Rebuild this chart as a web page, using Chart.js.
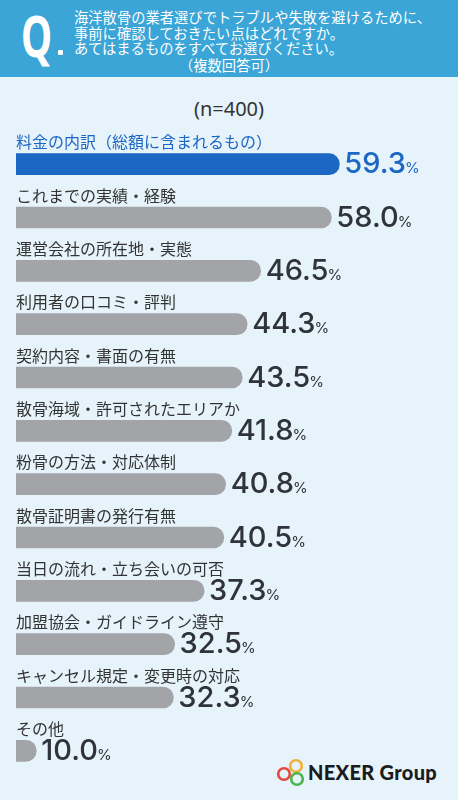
<!DOCTYPE html>
<html><head><meta charset="utf-8">
<script src="https://cdn.jsdelivr.net/npm/chart.js@4/dist/chart.umd.min.js"></script>
<style>
html,body{margin:0;padding:0;}
body{width:458px;height:800px;background:#e6f3fb;position:relative;overflow:hidden;font-family:"Noto Sans CJK JP","Noto Sans",sans-serif;}
#hdr{position:absolute;left:0;top:0;width:458px;height:77px;background:#3aa5d6;color:#fff;}
#q{position:absolute;left:21px;top:2px;font-family:"Noto Sans",sans-serif;font-weight:700;font-size:58px;line-height:66px;transform:scaleX(0.68);transform-origin:left top;}
#qd{position:absolute;left:58px;top:50px;width:5px;height:5px;background:#fff;border-radius:1px;}
#ht{position:absolute;left:74px;top:9px;font-size:14.3px;line-height:15.5px;}
#ht4{position:absolute;left:0;width:458px;top:57px;text-align:center;font-size:14.3px;line-height:15.5px;color:#fff;}
#n{position:absolute;left:0;width:458px;top:95px;text-align:center;font-family:"Noto Sans","Noto Sans CJK JP",sans-serif;font-size:20px;line-height:28px;color:#333;}
#logo{position:absolute;left:276px;top:757px;}
#lt{position:absolute;left:308px;top:760px;font-family:"Lato",sans-serif;font-weight:900;font-size:20px;line-height:25px;color:#1b1b1b;letter-spacing:0.3px;}
canvas{position:absolute;left:0;top:0;}
</style></head>
<body>
<div id="hdr">
  <div id="q">Q</div><div id="qd"></div>
  <div id="ht">海洋散骨の業者選びでトラブルや失敗を避けるために、<br>事前に確認しておきたい点はどれですか。<br>あてはまるものをすべてお選びください。</div>
  <div id="ht4">（複数回答可）</div>
</div>
<div id="n">(n=400)</div>
<svg id="logo" width="30" height="32" viewBox="0 0 30 32">
  <circle cx="20" cy="9" r="5.8" fill="none" stroke="#f0b13a" stroke-width="2.6"/>
  <circle cx="8" cy="17" r="5.8" fill="none" stroke="#e2483d" stroke-width="2.6"/>
  <circle cx="21" cy="22" r="5.8" fill="none" stroke="#4db34b" stroke-width="2.6"/>
</svg>
<div id="lt">NEXER Group</div>
<div style="position:absolute;left:0;top:0;width:458px;height:800px;">
<canvas id="c" width="458" height="800"></canvas>
</div>
<script>
const categories = [
  "料金の内訳（総額に含まれるもの）",
  "これまでの実績・経験",
  "運営会社の所在地・実態",
  "利用者の口コミ・評判",
  "契約内容・書面の有無",
  "散骨海域・許可されたエリアか",
  "粉骨の方法・対応体制",
  "散骨証明書の発行有無",
  "当日の流れ・立ち会いの可否",
  "加盟協会・ガイドライン遵守",
  "キャンセル規定・変更時の対応",
  "その他"
];
const values = [59.3, 58.0, 46.5, 44.3, 43.5, 41.8, 40.8, 40.5, 37.3, 32.5, 32.3, 10.0];
const valueLabels = ["59.3","58.0","46.5","44.3","43.5","41.8","40.8","40.5","37.3","32.5","32.3","10.0"];

const BLUE = "#1c67c3", GRAY = "#a3a4a7", DARK = "#30343a";

const labelPlugin = {
  id: "labels",
  afterDatasetsDraw(chart) {
    const ctx = chart.ctx;
    const meta = chart.getDatasetMeta(0);
    meta.data.forEach((bar, i) => {
      const color = i === 0 ? BLUE : DARK;
      ctx.save();
      ctx.textBaseline = "middle";
      ctx.textAlign = "left";
      ctx.fillStyle = i === 0 ? BLUE : "#333";
      ctx.font = '16px "Noto Sans CJK JP", sans-serif';
      ctx.fillText(categories[i], 16, bar.y - 22);
      ctx.textBaseline = "alphabetic";
      ctx.fillStyle = color;
      ctx.font = '500 29px "Inter", "Noto Sans", sans-serif';
      const x0 = bar.x + 5;
      ctx.fillText(valueLabels[i], x0, bar.y + 9);
      const w = ctx.measureText(valueLabels[i]).width;
      ctx.font = '400 15px "Inter", "Noto Sans", sans-serif';
      ctx.fillText("%", x0 + w - 1, bar.y + 9);
      ctx.restore();
    });
  }
};

new Chart(document.getElementById("c"), {
  type: "bar",
  data: {
    labels: categories,
    datasets: [{
      data: values,
      backgroundColor: values.map((v, i) => i === 0 ? BLUE : GRAY),
      barThickness: 21,
      borderRadius: 11,
      borderSkipped: "start"
    }]
  },
  options: {
    indexAxis: "y",
    responsive: false,
    animation: false,
    layout: { padding: { left: 16, right: 0, top: 137.5, bottom: 22.5 } },
    plugins: { legend: { display: false }, tooltip: { enabled: false } },
    scales: {
      x: { display: false, min: 6.7, max: 78.6 },
      y: { display: false }
    }
  },
  plugins: [labelPlugin]
});
</script>
</body></html>
